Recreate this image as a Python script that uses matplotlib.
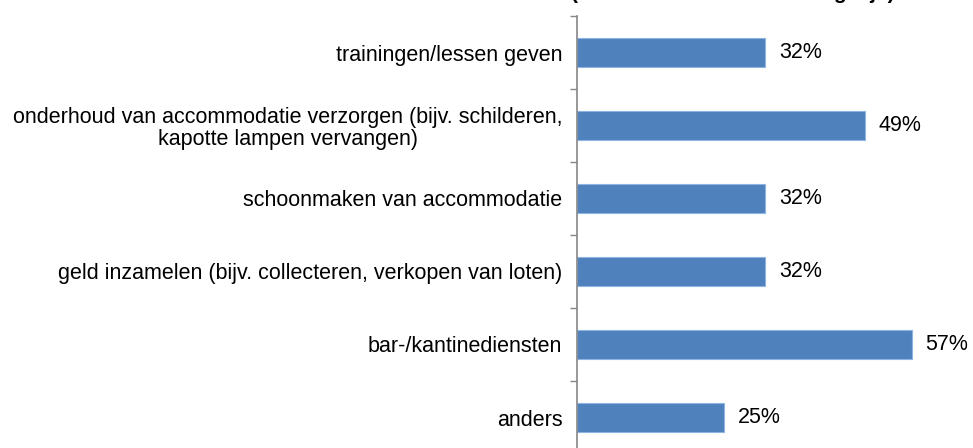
import matplotlib.pyplot as plt
from matplotlib.ticker import FixedLocator

plt.rcParams['font.family'] = ['Liberation Sans', 'DejaVu Sans']

# Data
categories = [
    'trainingen/lessen geven',
    'onderhoud van accommodatie verzorgen (bijv. schilderen,\nkapotte lampen vervangen)',
    'schoonmaken van accommodatie',
    'geld inzamelen (bijv. collecteren, verkopen van loten)',
    'bar-/kantinediensten',
    'anders',
]
values = [32, 49, 32, 32, 57, 25]
title = '(meerdere antwoorden mogelijk)'

fig = plt.figure(figsize=(9.73, 4.48), dpi=100)
ax = fig.add_axes([577 / 973, -6 / 448, 411 / 973, 438 / 448])

y = list(range(len(categories)))
ax.barh(y, values, height=0.4, color='#4F81BD', edgecolor='#8EB4E3', linewidth=0.8)
for yi, v in zip(y, values):
    ax.annotate(f'{v}%', (v, yi), xytext=(10, 0), textcoords='offset points',
                va='center', ha='left', fontsize=15.5)

ax.set_xlim(0, 70)
ax.set_ylim(len(categories) - 0.5, -0.5)
ax.set_yticks(y)
ax.set_yticklabels(categories, fontsize=15.5, linespacing=1.05)
for lbl in ax.get_yticklabels():
    lbl.set_multialignment('center')
ax.tick_params(axis='y', which='major', length=0, pad=10.5)
ax.yaxis.set_minor_locator(FixedLocator([i - 0.5 for i in range(len(categories) + 1)]))
ax.tick_params(axis='y', which='minor', length=5, color='#868686', width=1)
ax.set_xticks([])
for s in ['top', 'right', 'bottom']:
    ax.spines[s].set_visible(False)
ax.spines['left'].set_color('#868686')
ax.spines['left'].set_linewidth(1.2)

# title sits mostly above the visible area, as in the original crop
fig.text(733 / 973, 1 + 1.5 / 448, title, ha='center', va='baseline',
         fontsize=15, fontweight='bold')

fig.savefig('out.png', dpi=100)
